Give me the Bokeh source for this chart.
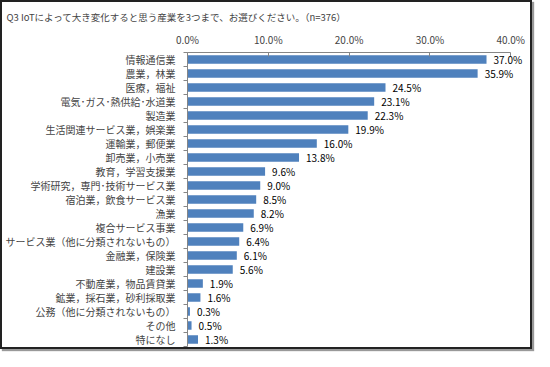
from bokeh.plotting import figure
from bokeh.layouts import column
from bokeh.models import Range1d, LinearAxis, FixedTicker, PrintfTickFormatter, LabelSet, ColumnDataSource
from bokeh.core.properties import value
from bokeh.embed import file_html
from bokeh.resources import INLINE

title_text = "Q3 IoTによって大き変化すると思う産業を3つまで、お選びください。（n=376）"
categories = [
    "情報通信業", "農業，林業", "医療，福祉", "電気･ガス･熱供給･水道業", "製造業",
    "生活関連サービス業，娯楽業", "運輸業，郵便業", "卸売業，小売業", "教育，学習支援業",
    "学術研究，専門･技術サービス業", "宿泊業，飲食サービス業", "漁業", "複合サービス事業",
    "サービス業（他に分類されないもの）", "金融業，保険業", "建設業", "不動産業，物品賃貸業",
    "鉱業，採石業，砂利採取業", "公務（他に分類されないもの）", "その他", "特になし",
]
values = [37.0, 35.9, 24.5, 23.1, 22.3, 19.9, 16.0, 13.8, 9.6, 9.0, 8.5, 8.2, 6.9,
          6.4, 6.1, 5.6, 1.9, 1.6, 0.3, 0.5, 1.3]
x_ticks = [0, 10, 20, 30, 40]

FONT = "Noto Sans CJK JP"
n = len(categories)
centers = [i + 0.5 for i in range(n)]
bounds = list(range(n + 1))
labels = ["%.1f%%" % v for v in values]

p = figure(width=528, height=345, output_backend="svg", toolbar_location=None,
           x_range=Range1d(0, 41.7), y_range=Range1d(n, 0),
           x_axis_location=None, y_axis_location=None,
           min_border_left=182, min_border_right=6, min_border_top=46, min_border_bottom=1)
p.outline_line_color = None
p.xgrid.visible = False
p.ygrid.visible = False
p.background_fill_color = "white"

p.title.text = title_text
p.title.text_font = FONT
p.title.text_font_size = "9.5px"
p.title.text_font_style = "normal"
p.title.align = "left"
p.title.offset = -181

xa = LinearAxis(ticker=FixedTicker(ticks=x_ticks), formatter=PrintfTickFormatter(format="%.1f%%"))
xa.bounds = (0, 40)
xa.axis_line_color = "#868686"
xa.major_tick_line_color = "#868686"
xa.major_tick_in = 4
xa.major_tick_out = 0
xa.minor_tick_line_color = None
xa.major_label_text_font = FONT
xa.major_label_text_font_size = "10px"
xa.major_label_standoff = 6
p.add_layout(xa, "above")

ya = LinearAxis(ticker=FixedTicker(ticks=centers, minor_ticks=bounds))
ya.major_label_overrides = {c: name for c, name in zip(centers, categories)}
ya.axis_line_color = "#868686"
ya.major_tick_line_color = None
ya.major_tick_in = 0
ya.major_tick_out = 0
ya.minor_tick_line_color = "#868686"
ya.minor_tick_in = 0
ya.minor_tick_out = 4
ya.major_label_text_font = FONT
ya.major_label_text_font_size = "10px"
ya.major_label_standoff = 8
p.add_layout(ya, "left")

p.hbar(y=centers, left=0, right=values, height=0.6, fill_color="#4F81BD", line_color=None)
src = ColumnDataSource(dict(x=values, y=centers, t=labels))
p.add_layout(LabelSet(x="x", y="y", text="t", source=src, x_offset=7, text_baseline="middle",
                      text_align="left", text_font=value(FONT), text_font_size="10px",
                      text_color="black"))

lay = column(p, styles={"border": "2px solid #222222", "box-shadow": "2px 2px 1px #999999"})
open("out.html", "w").write(file_html(lay, INLINE))
